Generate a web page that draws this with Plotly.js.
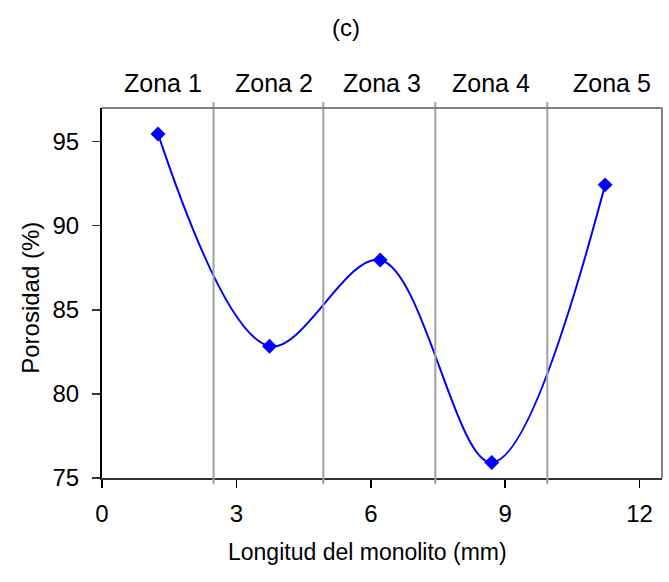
<!DOCTYPE html>
<html>
<head>
<meta charset="utf-8">
<script src="https://cdn.plot.ly/plotly-3.0.1.min.js"></script>
<style>html,body{margin:0;padding:0;background:#fff;}#chart{width:669px;height:582px;}</style>
</head>
<body>
<div id="chart"></div>
<script>
// Data
const longitud = [1.25, 3.74, 6.21, 8.70, 11.23];
const porosidad = [95.46, 82.84, 87.96, 75.92, 92.43];
const zoneBounds = [2.49, 4.94, 7.44, 9.94];
const zoneLabels = ['Zona 1', 'Zona 2', 'Zona 3', 'Zona 4', 'Zona 5'];
const zoneLabelX = [1.37, 3.84, 6.25, 8.68, 11.38];
const xTicks = [0, 3, 6, 9, 12];
const yTicks = [75, 80, 85, 90, 95];

const FONT = 'Liberation Sans, Arial, sans-serif';

const trace = {
  x: longitud, y: porosidad, type: 'scatter', mode: 'lines+markers',
  line: {color: '#0000ff', width: 2, shape: 'spline', smoothing: 1},
  marker: {symbol: 'diamond', size: 11.5, color: '#0000ff'},
  showlegend: false, hoverinfo: 'x+y'
};

const shapes = zoneBounds.map(b => ({
  type: 'line', xref: 'x', yref: 'paper', x0: b, x1: b, y0: -0.017, y1: 1.016,
  line: {color: '#a0a0a0', width: 2}, layer: 'above'
}));
// top and right frame
shapes.push({type: 'line', xref: 'paper', yref: 'paper', x0: 0, x1: 1, y0: 1, y1: 1, line: {color: '#808080', width: 2}});
shapes.push({type: 'line', xref: 'paper', yref: 'paper', x0: 1, x1: 1, y0: 0, y1: 1, line: {color: '#808080', width: 2}});

const annotations = zoneLabels.map((t, i) => ({
  text: t, x: zoneLabelX[i], xref: 'x', y: 1.067, yref: 'paper',
  xanchor: 'center', yanchor: 'middle', showarrow: false,
  font: {family: FONT, size: 25, color: '#000'}
}));
annotations.push({text: '(c)', x: 0.436, xref: 'paper', y: 1.218, yref: 'paper', xanchor: 'center', yanchor: 'middle', showarrow: false, font: {family: FONT, size: 24, color: '#000'}});
annotations.push({text: 'Longitud del monolito (mm)', x: 0.474, xref: 'paper', y: -0.200, yref: 'paper', xanchor: 'center', yanchor: 'middle', showarrow: false, font: {family: FONT, size: 23, color: '#000'}});
annotations.push({text: 'Porosidad (%)', x: -0.128, xref: 'paper', y: 0.488, yref: 'paper', xanchor: 'center', yanchor: 'middle', textangle: -90, showarrow: false, font: {family: FONT, size: 24, color: '#000'}});

const layout = {
  width: 669, height: 582,
  margin: {l: 102, r: 7, t: 108, b: 104, pad: 0},
  paper_bgcolor: '#fff', plot_bgcolor: '#fff',
  font: {family: FONT, size: 24, color: '#000'},
  xaxis: {
    range: [0, 12.5], tickvals: xTicks, ticktext: xTicks.map(String),
    showgrid: false, zeroline: false, showline: true, linecolor: '#333', linewidth: 2,
    ticks: 'outside', ticklen: 8, tickcolor: '#000', tickwidth: 1.5,
    ticklabelstandoff: 5,
    tickfont: {family: FONT, size: 24, color: '#000'}
  },
  yaxis: {
    range: [75, 97], tickvals: yTicks, ticktext: yTicks.map(String),
    showgrid: false, zeroline: false, showline: true, linecolor: '#000', linewidth: 2,
    ticks: 'outside', ticklen: 8, tickcolor: '#333', tickwidth: 1.5,
    ticklabelstandoff: 8,
    tickfont: {family: FONT, size: 24, color: '#000'}
  },
  shapes: shapes,
  annotations: annotations
};

Plotly.newPlot('chart', [trace], layout, {displayModeBar: false, staticPlot: true});
</script>
</body>
</html>
